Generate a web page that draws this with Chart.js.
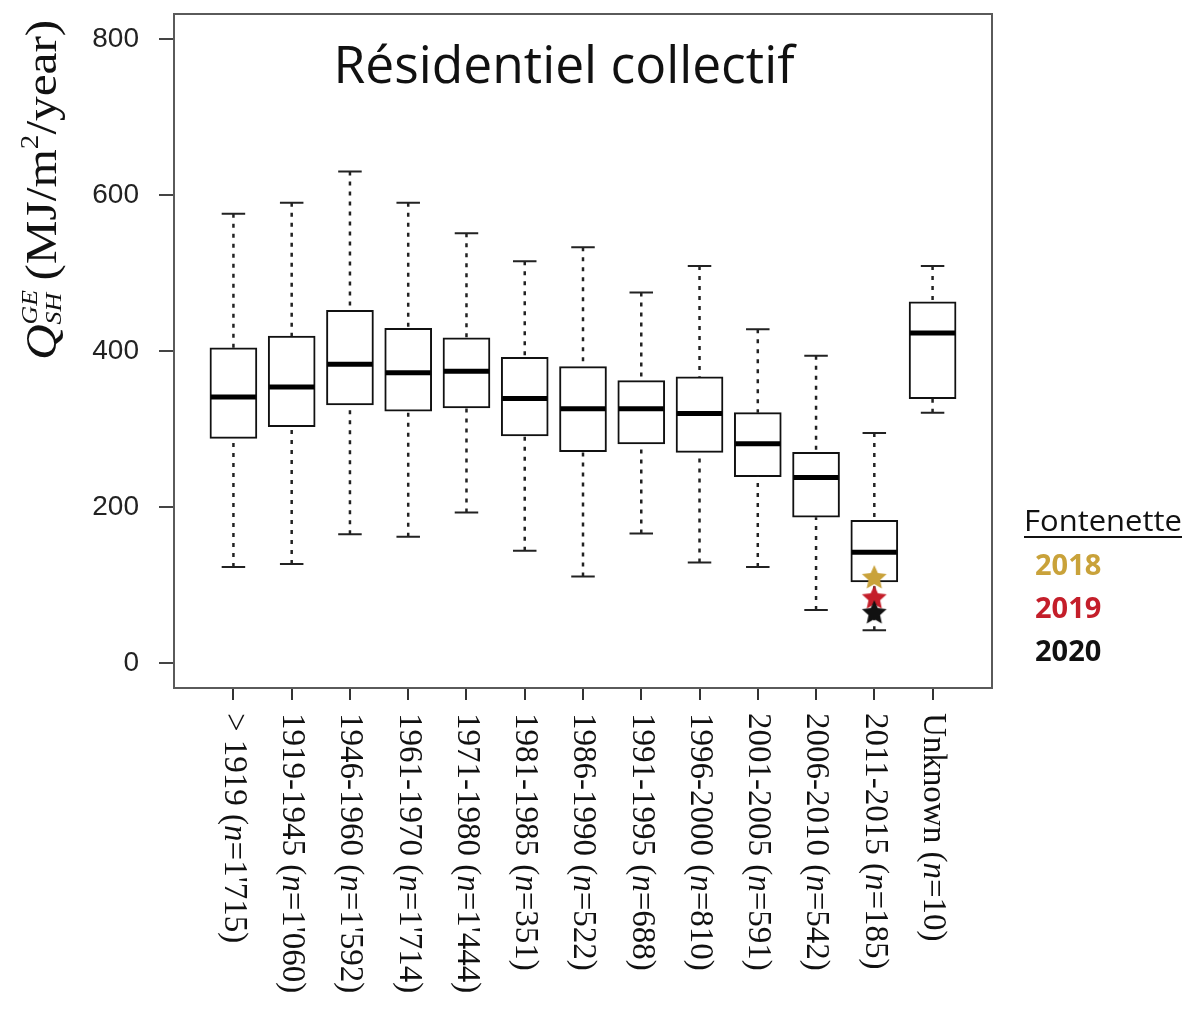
<!DOCTYPE html>
<html>
<head>
<meta charset="utf-8">
<script src="https://cdn.jsdelivr.net/npm/chart.js@4.4.1/dist/chart.umd.min.js"></script>
<style>
  html, body { margin: 0; padding: 0; background: #fff; }
  #wrap { width: 1191px; height: 1009px; }
</style>
</head>
<body>
<div id="wrap"><canvas id="chart" width="1191" height="1009"></canvas></div>
<script>
// ----------------------------------------------------------------------
// Data: construction period, sample size, box-plot statistics (MJ/m2/yr)
// ----------------------------------------------------------------------
const periods = ["> 1919", "1919-1945", "1946-1960", "1961-1970", "1971-1980", "1981-1985",
  "1986-1990", "1991-1995", "1996-2000", "2001-2005", "2006-2010", "2011-2015", "Unknown"];
const counts = ["1'715", "1'060", "1'592", "1'714", "1'444", "351", "522", "688", "810",
  "591", "542", "185", "10"];
const whiskerLow  = [123, 127, 165, 162, 193, 144, 111, 166, 129, 123,  68,  42, 321];
const q1          = [288, 303, 331, 323, 327, 291, 271, 281, 270, 239, 187, 104, 339];
const median      = [341, 354, 383, 372, 374, 339, 326, 326, 320, 281, 238, 142, 423];
const q3          = [404, 419, 452, 429, 417, 392, 380, 362, 367, 321, 270, 183, 463];
const whiskerHigh = [576, 590, 630, 590, 551, 515, 533, 475, 509, 428, 394, 295, 509];
const yTicks = [0, 200, 400, 600, 800];

// Fontenette measurements (placed on the 2011-2015 box)
const fontenetteYears = ["2018", "2019", "2020"];
const fontenetteValues = [109, 83, 64];
const fontenettePeriod = "2011-2015";

const starColors = ["#C9A23A", "#C41E2A", "#111111"];
const BOX_W = 47;
const SERIF = '"Liberation Serif", "DejaVu Serif", serif';

// ----------------------------------------------------------------------
// helpers
// ----------------------------------------------------------------------
function starImage(color) {
  const r = 13;
  const c = document.createElement("canvas");
  c.width = c.height = 2 * r + 2;
  const g = c.getContext("2d");
  g.fillStyle = color;
  g.beginPath();
  for (let k = 0; k < 10; k++) {
    const rad = k % 2 ? r * 0.47 : r;
    const a = -Math.PI / 2 + (k * Math.PI) / 5;
    g.lineTo(r + 1 + rad * Math.cos(a), r + 1 + rad * Math.sin(a));
  }
  g.closePath();
  g.fill();
  return c;
}

// draws a list of text runs one after the other, returns the end x
function drawRuns(ctx, runs, x, y) {
  runs.forEach((r) => {
    ctx.font = r.font;
    ctx.fillText(r.text, x, y + (r.dy || 0));
    if (!r.stack) x += ctx.measureText(r.text).width;
  });
  return x;
}

// ----------------------------------------------------------------------
// plugins
// ----------------------------------------------------------------------
const whiteBg = {
  id: "whiteBg",
  beforeDraw(chart) {
    const { ctx } = chart;
    ctx.save();
    ctx.fillStyle = "#fff";
    ctx.fillRect(0, 0, chart.width, chart.height);
    ctx.restore();
  },
};

const frame = {
  id: "frame",
  beforeDatasetsDraw(chart) {
    const { ctx, chartArea: a } = chart;
    ctx.save();
    ctx.strokeStyle = "#5a5a5a";
    ctx.lineWidth = 2;
    ctx.strokeRect(a.left, a.top, a.right - a.left, a.bottom - a.top);
    ctx.restore();
  },
};

// whiskers, staples and medians, drawn right after the boxes
const boxParts = {
  id: "boxParts",
  afterDatasetDraw(chart, args) {
    if (args.meta.type !== "bar") return;
    const { ctx } = chart;
    const { x, y } = chart.scales;
    const half = BOX_W / 2;
    const cap = BOX_W / 4;
    ctx.save();
    periods.forEach((p, i) => {
      const px = x.getPixelForValue(i + 1);
      ctx.strokeStyle = "#222";
      ctx.lineWidth = 2.5;
      ctx.setLineDash([4, 6]);
      ctx.beginPath();
      ctx.moveTo(px, y.getPixelForValue(whiskerHigh[i]));
      ctx.lineTo(px, y.getPixelForValue(q3[i]));
      ctx.moveTo(px, y.getPixelForValue(whiskerLow[i]));
      ctx.lineTo(px, y.getPixelForValue(q1[i]));
      ctx.stroke();
      ctx.setLineDash([]);
      ctx.lineWidth = 2;
      ctx.beginPath();
      [whiskerHigh[i], whiskerLow[i]].forEach((v) => {
        const py = y.getPixelForValue(v);
        ctx.moveTo(px - cap, py);
        ctx.lineTo(px + cap, py);
      });
      ctx.stroke();
      ctx.strokeStyle = "#000";
      ctx.lineWidth = 5;
      ctx.beginPath();
      const pm = y.getPixelForValue(median[i]);
      ctx.moveTo(px - half + 1, pm);
      ctx.lineTo(px + half - 1, pm);
      ctx.stroke();
    });
    ctx.restore();
  },
};

const texts = {
  id: "texts",
  afterDraw(chart) {
    const { ctx } = chart;
    const { x } = chart.scales;
    ctx.save();
    ctx.fillStyle = "#111";

    // x labels, rotated clockwise
    ctx.textBaseline = "middle";
    ctx.textAlign = "left";
    periods.forEach((p, i) => {
      ctx.save();
      ctx.translate(x.getPixelForValue(i + 1), x.top + 25);
      ctx.rotate(Math.PI / 2);
      drawRuns(ctx, [
        { text: p + " (", font: "33px " + SERIF },
        { text: "n", font: "italic 33px " + SERIF },
        { text: "=" + counts[i] + ")", font: "33px " + SERIF },
      ], 0, 0);
      ctx.restore();
    });

    // y title, rotated counter-clockwise
    ctx.save();
    ctx.textBaseline = "alphabetic";
    ctx.translate(56, 360);
    ctx.rotate(-Math.PI / 2);
    ctx.scale(1.12, 1);
    drawRuns(ctx, [
      { text: "Q", font: "italic 44px " + SERIF },
      { text: "GE", font: "italic 23px " + SERIF, dy: -19, stack: true },
      { text: "SH", font: "italic 23px " + SERIF, dy: 5 },
      { text: " (MJ/m", font: "44px " + SERIF },
      { text: "2", font: "26px " + SERIF, dy: -18 },
      { text: "/year)", font: "44px " + SERIF },
    ], 0, 0);
    ctx.restore();

    // panel title
    ctx.save();
    ctx.textBaseline = "alphabetic";
    ctx.textAlign = "center";
    ctx.font = '51px "Open Sans", sans-serif';
    const title = "Résidentiel collectif";
    const sx = 461 / ctx.measureText(title).width;
    ctx.translate(564, 83);
    ctx.scale(sx, 1);
    ctx.fillText(title, 0, 0);
    ctx.restore();

    // legend built from the star datasets
    ctx.save();
    ctx.textBaseline = "alphabetic";
    ctx.textAlign = "left";
    ctx.font = '29px "Open Sans", sans-serif';
    const head = "Fontenette";
    const hw = ctx.measureText(head).width;
    ctx.save();
    ctx.translate(1024, 531);
    ctx.scale(158 / hw, 1);
    ctx.fillText(head, 0, 0);
    ctx.restore();
    ctx.fillRect(1024, 536, 158, 2);
    const stars = chart.data.datasets.filter((d) => d.type === "scatter");
    stars.forEach((d, k) => {
      ctx.fillStyle = d.legendColor;
      ctx.font = 'bold 29px "Open Sans", sans-serif';
      ctx.fillText(d.label, 1035, 575 + k * 43);
    });
    ctx.restore();

    ctx.restore();
  },
};

// ----------------------------------------------------------------------
// chart
// ----------------------------------------------------------------------
const starX = periods.indexOf(fontenettePeriod) + 1;

const datasets = [
  {
    type: "bar",
    label: "Q_SH",
    data: periods.map((p, i) => ({ x: i + 1, y: [q1[i], q3[i]] })),
    backgroundColor: "#fff",
    borderColor: "#111",
    borderWidth: 2,
    borderSkipped: false,
    barThickness: BOX_W,
    order: 5,
  },
];
fontenetteYears.forEach((yr, k) => {
  datasets.push({
    type: "scatter",
    label: yr,
    data: [{ x: starX, y: fontenetteValues[k] }],
    pointStyle: starImage(starColors[k]),
    pointRadius: 13,
    legendColor: starColors[k],
    order: 3 - k,
  });
});

new Chart(document.getElementById("chart"), {
  type: "bar",
  data: { datasets },
  options: {
    responsive: false,
    animation: false,
    layout: { padding: { top: 12, right: 199, left: 0, bottom: 0 } },
    plugins: { legend: { display: false }, tooltip: { enabled: false } },
    scales: {
      x: {
        type: "linear",
        min: -0.02,
        max: 14.02,
        offset: false,
        border: { display: false },
        grid: { offset: false, drawOnChartArea: false, tickLength: 12, tickColor: "#333", lineWidth: 2 },
        ticks: { display: false },
        afterBuildTicks: (s) => { s.ticks = periods.map((p, i) => ({ value: i + 1 })); },
        afterFit: (s) => { s.height = 321; s.paddingLeft = 0; s.paddingRight = 0; },
      },
      y: {
        type: "linear",
        min: -32,
        max: 832,
        border: { display: false },
        grid: { drawOnChartArea: false, tickLength: 15, tickColor: "#444", lineWidth: 2 },
        ticks: {
          color: "#222",
          padding: 20,
          font: { family: '"Liberation Sans", Arial, sans-serif', size: 28 },
        },
        afterBuildTicks: (s) => { s.ticks = yTicks.map((v) => ({ value: v })); },
        afterFit: (s) => { s.width = 174; s.paddingTop = 0; s.paddingBottom = 0; },
      },
    },
  },
  plugins: [whiteBg, frame, boxParts, texts],
});
</script>
</body>
</html>
